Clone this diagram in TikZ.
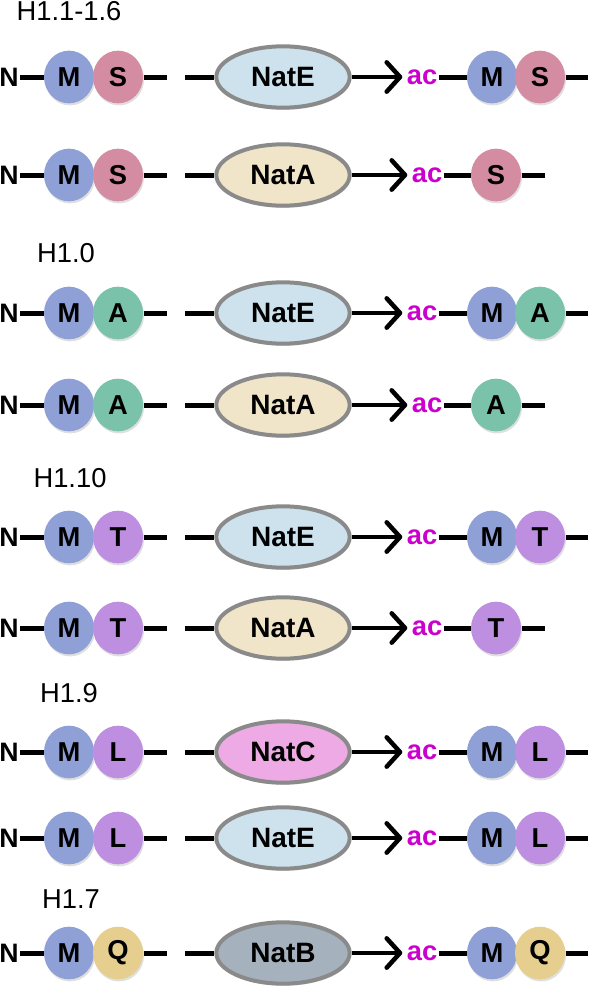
\documentclass[tikz,border=0pt]{standalone}
\usepackage{fontspec}
\setmainfont{Liberation Sans}
\usetikzlibrary{shapes.geometric,arrows.meta,shadows}

\definecolor{resM}{RGB}{143,160,214}
\definecolor{resS}{RGB}{212,140,162}
\definecolor{resA}{RGB}{122,194,170}
\definecolor{resT}{RGB}{190,142,224}
\definecolor{resQ}{RGB}{230,206,142}
\definecolor{natE}{RGB}{206,226,237}
\definecolor{natA}{RGB}{240,229,200}
\definecolor{natC}{RGB}{238,170,228}
\definecolor{natB}{RGB}{165,178,190}
\definecolor{acCol}{RGB}{204,0,204}
\definecolor{rim}{RGB}{138,138,138}

\tikzset{every picture/.style={line width=0.75pt}}

\begin{document}
\begin{tikzpicture}[x=0.75pt,y=0.75pt,yscale=-1,xscale=1,
	res/.style={ellipse, minimum width=37.5pt, minimum height=39.5pt, inner sep=0pt,
		font=\fontsize{20.5}{21}\selectfont\bfseries,
		drop shadow={opacity=0.25, shadow xshift=0.8pt, shadow yshift=-1.6pt}},
	nat/.style={ellipse, draw=rim, line width=3pt, minimum width=100pt, minimum height=46pt,
		inner sep=0pt, font=\fontsize{21}{22}\selectfont\bfseries,
		drop shadow={opacity=0.25, shadow xshift=0.8pt, shadow yshift=-1.6pt}},
	ntxt/.style={inner sep=1pt, font=\fontsize{20}{20}\selectfont\bfseries},
	actxt/.style={inner sep=1pt, text=acCol, font=\fontsize{20.5}{21}\selectfont\bfseries},
	lbl/.style={inner sep=0pt, font=\fontsize{20.5}{22}\selectfont},
	chain/.style={line width=3.75pt},
	arr/.style={line width=3.4pt, shorten >=2pt, -{Straight Barb[length=10pt,width=22pt,round]}}]
	%set diagram size 597 x 1003
	\path[use as bounding box] (0,0) rectangle (597,1003);

	% Isoform labels
	\node[lbl] (h1) at (69,11) {H1.1-1.6};
	\node[lbl] (h2) at (66,253) {H1.0};
	\node[lbl] (h3) at (70,478) {H1.10};
	\node[lbl] (h4) at (69,693) {H1.9};
	\node[lbl] (h5) at (71,899) {H1.7};

	% Rows: y / residue / colour / enzyme / colour / M kept
	\foreach \y/\res/\rcol/\nat/\ncol/\keep [count=\i] in {
		77/S/resS/NatE/natE/1, 175/S/resS/NatA/natA/0,
		313/A/resA/NatE/natE/1, 405/A/resA/NatA/natA/0,
		537/T/resT/NatE/natE/1, 628/T/resT/NatA/natA/0,
		752/L/resT/NatC/natC/1, 838/L/resT/NatE/natE/1,
		953/Q/resQ/NatB/natB/1}{
		% substrate
		\node[ntxt] (n\i) at (9,\y) {N};
		\node[res,fill=resM] (m\i) at (69,\y) {M};
		\node[res,fill=\rcol] (r\i) at (118,\y) {\res};
		\coordinate (t\i) at (167,\y);
		\coordinate (s\i) at (185,\y);
		\node[nat,fill=\ncol] (e\i) at (283,\y) {\nat};
		\draw[chain] (n\i) -- (m\i);
		\draw[chain] (r\i) -- (t\i);
		\draw[chain] (s\i) -- (e\i);
		% product
		\ifnum\keep=1
			\node[actxt] (a\i) at (422,\y) {ac};
			\node[res,fill=resM] (pm\i) at (492,\y) {M};
			\node[res,fill=\rcol] (pr\i) at (540,\y) {\res};
			\coordinate (pt\i) at (588,\y);
			\draw[chain] (a\i) -- (pm\i);
		\else
			\node[actxt] (a\i) at (427,\y) {ac};
			\node[res,fill=\rcol] (pr\i) at (496,\y) {\res};
			\coordinate (pt\i) at (545,\y);
			\draw[chain] (a\i) -- (pr\i);
		\fi
		\draw[chain] (pr\i) -- (pt\i);
		\draw[arr] (e\i) -- (a\i);
	}
\end{tikzpicture}
\end{document}
